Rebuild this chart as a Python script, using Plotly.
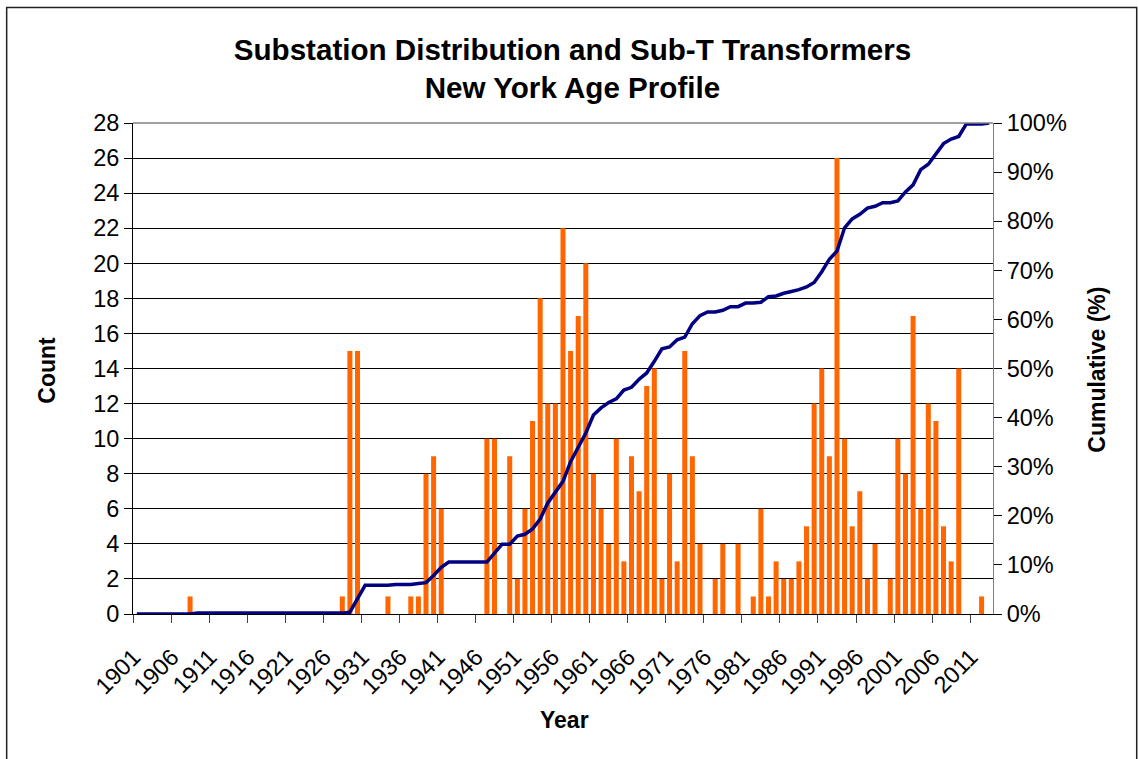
import plotly.graph_objects as go

# ---------------- data ----------------
years = list(range(1901, 2014))

counts = [
    0, 0, 0, 0, 0, 0, 0, 1, 0, 0,        # 1901-1910
    0, 0, 0, 0, 0, 0, 0, 0, 0, 0,        # 1911-1920
    0, 0, 0, 0, 0, 0, 0, 1, 15, 15,      # 1921-1930
    0, 0, 0, 1, 0, 0, 1, 1, 8, 9,        # 1931-1940
    6, 0, 0, 0, 0, 0, 10, 10, 0, 9,      # 1941-1950
    2, 6, 11, 18, 12, 12, 22, 15, 17, 20,  # 1951-1960
    8, 6, 4, 10, 3, 9, 7, 13, 14, 2,     # 1961-1970
    8, 3, 15, 9, 4, 0, 2, 4, 0, 4,       # 1971-1980
    0, 1, 6, 1, 3, 2, 2, 3, 5, 12,       # 1981-1990
    14, 9, 26, 10, 5, 7, 2, 4, 0, 2,     # 1991-2000
    10, 8, 17, 6, 12, 11, 5, 3, 14, 0,   # 2001-2010
    0, 1, 0,                             # 2011-2013
]

cumulative_pct = [
    0, 0, 0, 0, 0, 0, 0, 0, 0.18, 0.18,                      # 1901-1910
    0.18, 0.18, 0.18, 0.18, 0.18, 0.18, 0.18, 0.18, 0.18, 0.18,  # 1911-1920
    0.18, 0.18, 0.18, 0.18, 0.18, 0.18, 0.18, 0.18, 0.36, 3.10,  # 1921-1930
    5.84, 5.84, 5.84, 5.84, 6.02, 6.02, 6.02, 6.20, 6.39, 7.85,  # 1931-1940
    9.49, 10.58, 10.58, 10.58, 10.58, 10.58, 10.58, 12.41, 14.23, 14.23,  # 1941-1950
    15.88, 16.24, 17.34, 19.34, 22.63, 24.82, 27.01, 31.02, 33.76, 36.86,  # 1951-1960
    40.51, 41.97, 43.07, 43.80, 45.62, 46.17, 47.81, 49.09, 51.46, 54.01,  # 1961-1970
    54.38, 55.84, 56.39, 59.12, 60.77, 61.50, 61.50, 61.86, 62.59, 62.59,  # 1971-1980
    63.32, 63.32, 63.50, 64.60, 64.78, 65.33, 65.69, 66.06, 66.61, 67.52,  # 1981-1990
    69.71, 72.26, 73.91, 78.65, 80.47, 81.39, 82.66, 83.03, 83.76, 83.76,  # 1991-2000
    84.12, 85.95, 87.41, 90.51, 91.61, 93.80, 95.80, 96.72, 97.26, 99.82,  # 2001-2010
    99.82, 99.82, 100.0,                                       # 2011-2013
]

tick_years = [1901, 1906, 1911, 1916, 1921, 1926, 1931, 1936, 1941, 1946, 1951,
              1956, 1961, 1966, 1971, 1976, 1981, 1986, 1991, 1996, 2001, 2006, 2011]
tick_labels = [str(y) for y in tick_years]
boundary_ticks = [y - 0.5 for y in tick_years]

title_lines = ["Substation Distribution and Sub-T Transformers", "New York Age Profile"]

# ---------------- figure ----------------
FONT = "Liberation Sans, Arial, sans-serif"
X_RANGE = [1900.5, 2013.5]

fig = go.Figure()
fig.add_trace(go.Bar(
    x=years, y=counts, name="Count",
    marker=dict(color="#FF6600", line=dict(width=0)),
    yaxis="y",
))
fig.add_trace(go.Scatter(
    x=years, y=cumulative_pct, name="Cumulative (%)",
    mode="lines", line=dict(color="#000080", width=3.5),
    yaxis="y2",
))

fig.update_layout(
    width=1139, height=759,
    margin=dict(l=133, r=146, t=123, b=145, pad=0),
    paper_bgcolor="white", plot_bgcolor="white",
    showlegend=False,
    bargap=0.34,
    font=dict(family=FONT, color="black", size=22),
    title=dict(text="<br>".join("<b>%s</b>" % t for t in title_lines),
               x=0.511, xanchor="center", xref="paper",
               y=0.921, yanchor="middle", yref="container",
               font=dict(family=FONT, size=29.6, color="black")),
    xaxis=dict(
        range=X_RANGE,
        tickmode="array", tickvals=tick_years, ticktext=tick_labels,
        tickangle=-45, ticks="outside", ticklen=19, tickcolor="rgba(0,0,0,0)",
        tickfont=dict(family=FONT, size=23.5),
        ticklabelshift=-3,
        showline=True, linecolor="black", linewidth=1,
        showgrid=False, zeroline=False,
        minor=dict(tickmode="array", tickvals=boundary_ticks,
                   ticks="outside", ticklen=8, tickcolor="#404040",
                   tickwidth=1, showgrid=False),
    ),
    # inside half of the "cross" tick marks on the category axis
    xaxis2=dict(
        range=X_RANGE, overlaying="x", anchor="y", side="bottom",
        tickmode="array", tickvals=boundary_ticks,
        ticks="inside", ticklen=7, tickcolor="#404040", tickwidth=1,
        showticklabels=False, showline=False, showgrid=False, zeroline=False,
    ),
    yaxis=dict(
        range=[0, 28], dtick=2, tick0=0,
        ticks="outside", ticklen=8, tickcolor="black",
        showline=True, linecolor="black", linewidth=1,
        showgrid=True, gridcolor="black", gridwidth=1,
        zeroline=False, tickfont=dict(size=23.5),
    ),
    yaxis2=dict(
        range=[0, 100], dtick=10, tick0=0, ticksuffix="%",
        overlaying="y", side="right",
        ticks="outside", ticklen=8, tickcolor="black",
        showline=True, linecolor="#808080", linewidth=1,
        showgrid=False, zeroline=False, tickfont=dict(size=23.5),
    ),
    # inside half of the "cross" tick marks on the secondary axis
    yaxis3=dict(
        range=[0, 100], dtick=10, tick0=0,
        overlaying="y", side="right", anchor="x",
        ticks="inside", ticklen=7, tickcolor="black",
        showticklabels=False, showline=False, showgrid=False, zeroline=False,
    ),
    annotations=[
        dict(text="<b>Count</b>", xref="paper", yref="paper",
             x=-0.1003, y=0.497, textangle=-90, showarrow=False,
             xanchor="center", yanchor="middle",
             font=dict(family=FONT, size=23, color="black")),
        dict(text="<b>Cumulative (%)</b>", xref="paper", yref="paper",
             x=1.1206, y=0.497, textangle=-90, showarrow=False,
             xanchor="center", yanchor="middle",
             font=dict(family=FONT, size=23, color="black")),
        dict(text="<b>Year</b>", xref="paper", yref="paper",
             x=0.502, y=-0.216, showarrow=False,
             xanchor="center", yanchor="middle",
             font=dict(family=FONT, size=23, color="black")),
    ],
    shapes=[
        dict(type="line", xref="paper", yref="paper", x0=0, x1=1, y0=1, y1=1,
             line=dict(color="#808080", width=1.5)),
        dict(type="rect", xref="paper", yref="paper",
             x0=-0.1469, x1=1.1671, y0=-0.40, y1=1.235,
             line=dict(color="#202020", width=1.5)),
    ],
)

fig.write_html("out.html", config={"displayModeBar": False},
               post_script="document.body.style.margin='0';")
